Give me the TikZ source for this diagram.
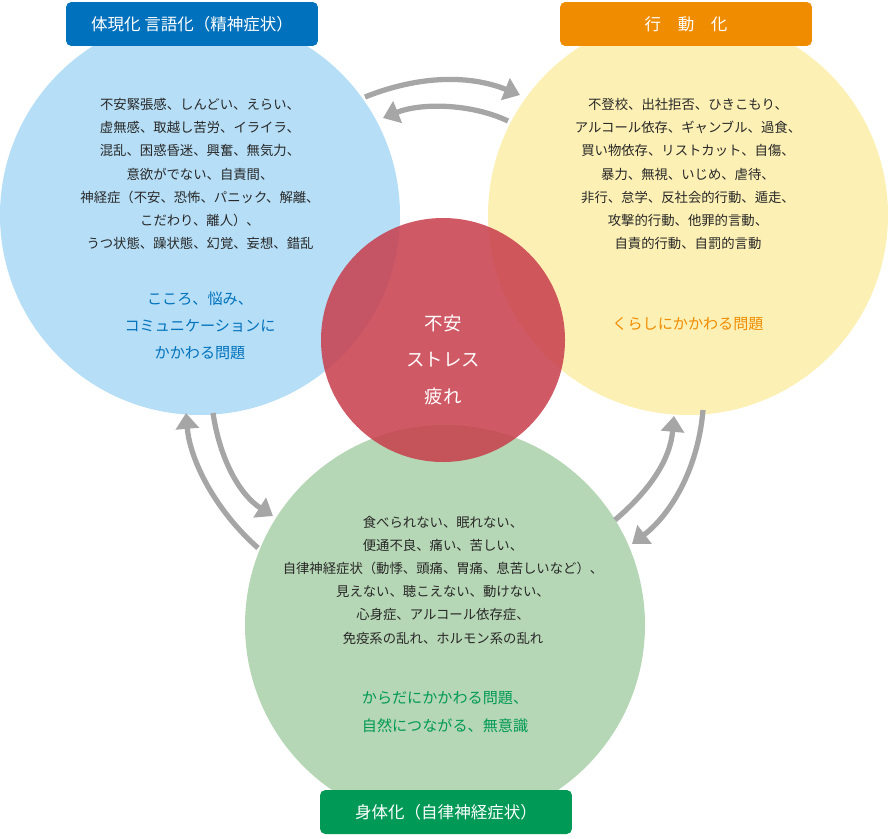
\documentclass[tikz,border=0pt]{standalone}
\usepackage{fontspec}
\setmainfont{Noto Sans CJK JP}
\usepackage{tikz}
\usetikzlibrary{arrows.meta,positioning}
\definecolor{blueFill}{RGB}{182,223,247}
\definecolor{yellowFill}{RGB}{252,240,180}
\definecolor{greenFill}{RGB}{182,215,181}
\definecolor{redFill}{RGB}{200,60,75}
\definecolor{blueDark}{RGB}{0,113,188}
\definecolor{orangeDark}{RGB}{240,140,0}
\definecolor{greenDark}{RGB}{0,153,85}
\definecolor{arrowGray}{RGB}{166,166,166}
\definecolor{textGray}{RGB}{40,40,40}
\tikzset{
  bodytext/.style={align=center,font=\fontsize{7.6}{13.2}\selectfont,text=textGray},
  themetext/.style={align=center,font=\fontsize{8.6}{15.5}\selectfont},
  headbox/.style={fill=#1,rounded corners=3pt,minimum width=5.04cm,minimum height=0.88cm,text=white,font=\fontsize{9.4}{11}\selectfont},
  cycarrow/.style={draw=arrowGray,line width=3pt,-{Triangle[length=9pt,width=13pt]}}
}
\begin{document}
\begin{tikzpicture}[x=0.02cm,y=-0.02cm]
\useasboundingbox (0,0) rectangle (888,838);
% circles
\fill[blueFill] (200,215) circle (200);
\fill[yellowFill] (688,215) circle (200);
\fill[greenFill] (445,625) circle (200);
\fill[redFill, fill opacity=0.85] (443,340) circle (122);
% headers
\node[headbox=blueDark] (hvBlue) at (192,24) {体現化 言語化（精神症状）};
\node[headbox=orangeDark] (hvOrange) at (686,24) {行\quad 動\quad 化};
\node[headbox=greenDark] (hvGreen) at (446,812) {身体化（自律神経症状）};
% texts
\node[bodytext] (mindList) at (200,174) {不安緊張感、しんどい、えらい、\\虚無感、取越し苦労、イライラ、\\混乱、困惑昏迷、興奮、無気力、\\意欲がでない、自責間、\\神経症（不安、恐怖、パニック、解離、\\こだわり、離人）、\\うつ状態、躁状態、幻覚、妄想、錯乱};
\node[themetext,text=blueDark] (mindTheme) at (200,326) {こころ、悩み、\\コミュニケーションに\\かかわる問題};
\node[bodytext] (actList) at (688,174) {不登校、出社拒否、ひきこもり、\\アルコール依存、ギャンブル、過食、\\買い物依存、リストカット、自傷、\\暴力、無視、いじめ、虐待、\\非行、怠学、反社会的行動、遁走、\\攻撃的行動、他罪的言動、\\自責的行動、自罰的言動};
\node[themetext,text=orangeDark] (actTheme) at (688,324) {くらしにかかわる問題};
\node[bodytext] (bodyList) at (443,580) {食べられない、眠れない、\\便通不良、痛い、苦しい、\\自律神経症状（動悸、頭痛、胃痛、息苦しいなど）、\\見えない、聴こえない、動けない、\\心身症、アルコール依存症、\\免疫系の乱れ、ホルモン系の乱れ};
\node[themetext,text=greenDark] (bodyTheme) at (445,712) {からだにかかわる問題、\\自然につながる、無意識};
\node[align=center,text=white,font=\fontsize{10.5}{21}\selectfont] (core) at (443,360) {不安\\ストレス\\疲れ};
% arrows
\coordinate (tA1) at (365,97);  \coordinate (tA2) at (520,95);
\coordinate (tB1) at (508,121); \coordinate (tB2) at (383,118);
\coordinate (lA1) at (258,548); \coordinate (lA2) at (186,413);
\coordinate (lB1) at (213,413); \coordinate (lB2) at (273,516);
\coordinate (rA1) at (615,520); \coordinate (rA2) at (674,416);
\coordinate (rB1) at (703,410); \coordinate (rB2) at (632,544);
\draw[cycarrow] (tA1) .. controls (420,75) and (470,75) .. (tA2);
\draw[cycarrow] (tB1) .. controls (470,103) and (420,103) .. (tB2);
\draw[cycarrow] (lA1) .. controls (215,510) and (190,460) .. (lA2);
\draw[cycarrow] (lB1) .. controls (220,460) and (240,495) .. (lB2);
\draw[cycarrow] (rA1) .. controls (650,490) and (670,460) .. (rA2);
\draw[cycarrow] (rB1) .. controls (698,470) and (670,515) .. (rB2);
\end{tikzpicture}
\end{document}
